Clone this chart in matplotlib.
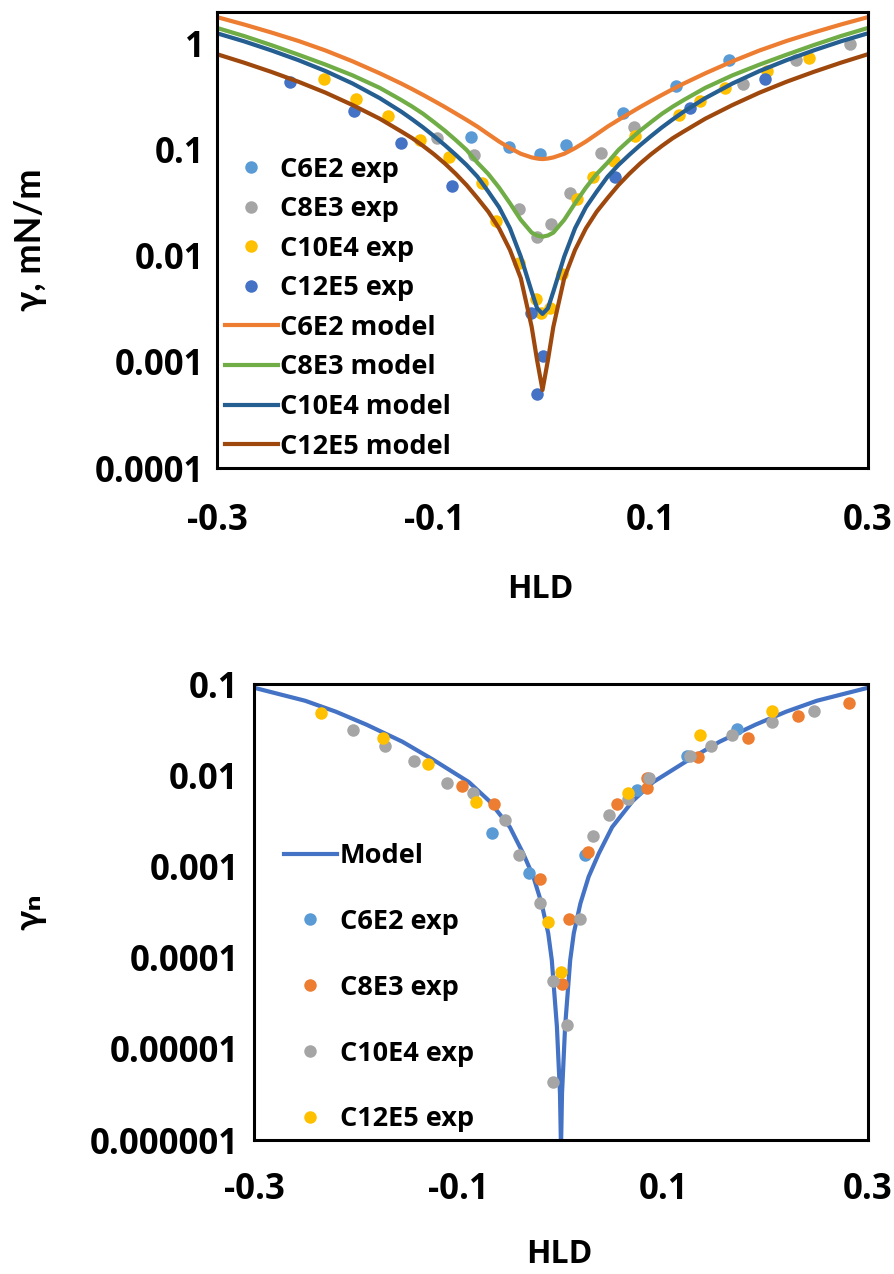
import matplotlib
matplotlib.use("Agg")
import matplotlib.pyplot as plt
from matplotlib.ticker import FixedLocator, FixedFormatter, NullLocator

plt.rcParams['font.family'] = ['Open Sans', 'DejaVu Sans']
plt.rcParams['font.weight'] = 'bold'
GREEK_FAMILY = ['Lato', 'DejaVu Sans']

# ---------------- Top chart data ----------------
top_c6e2_x = [-0.066, -0.031, -0.002, 0.022, 0.074, 0.123, 0.172]
top_c6e2_y = [0.132, 0.106, 0.091, 0.111, 0.222, 0.40, 0.71]

top_c8e3_x = [-0.097, -0.063, -0.022, -0.005, 0.008, 0.025, 0.054, 0.084, 0.185, 0.234, 0.283]
top_c8e3_y = [0.129, 0.089, 0.0276, 0.015, 0.020, 0.039, 0.093, 0.166, 0.417, 0.70, 0.99]

top_c10e4_x = [-0.201, -0.172, -0.142, -0.113, -0.086, -0.056, -0.043, -0.022, -0.006, -0.001,
               0.007, 0.018, 0.032, 0.047, 0.066, 0.085, 0.126, 0.145, 0.168, 0.207, 0.246]
top_c10e4_y = [0.468, 0.30, 0.209, 0.124, 0.0865, 0.0485, 0.0215, 0.0085, 0.0039, 0.0029,
               0.0032, 0.0068, 0.0345, 0.055, 0.078, 0.134, 0.214, 0.29, 0.38, 0.56, 0.74]

top_c12e5_x = [-0.233, -0.174, -0.130, -0.083, -0.011, 0.0, -0.005, 0.067, 0.136, 0.205]
top_c12e5_y = [0.44, 0.233, 0.117, 0.046, 0.0029, 0.00114, 0.0005, 0.055, 0.247, 0.468]

model_x = [-0.3, -0.275, -0.25, -0.225, -0.2, -0.175, -0.15, -0.13, -0.12, -0.11, -0.1, -0.09,
           -0.08, -0.07, -0.06, -0.05, -0.04, -0.03, -0.02, -0.01, -0.005, 0.0, 0.005, 0.01,
           0.02, 0.03, 0.04, 0.05, 0.06, 0.07, 0.08, 0.09, 0.1, 0.11, 0.12, 0.13, 0.15, 0.175,
           0.2, 0.225, 0.25, 0.275, 0.3]
model_c6e2 = [1.79, 1.524, 1.282, 1.067, 0.867, 0.685, 0.528, 0.422, 0.374, 0.33, 0.29, 0.254,
              0.221, 0.192, 0.166, 0.141, 0.12, 0.104, 0.092, 0.085, 0.083, 0.082, 0.083, 0.085,
              0.092, 0.104, 0.12, 0.141, 0.166, 0.192, 0.221, 0.254, 0.29, 0.33, 0.374, 0.422,
              0.528, 0.685, 0.867, 1.067, 1.282, 1.524, 1.79]
model_c8e3 = [1.415, 1.186, 0.975, 0.792, 0.638, 0.505, 0.385, 0.295, 0.256, 0.219, 0.183, 0.152,
              0.124, 0.1, 0.0759, 0.0594, 0.0441, 0.0314, 0.0219, 0.0166, 0.0156, 0.0152, 0.0156,
              0.0166, 0.0219, 0.0314, 0.0441, 0.0594, 0.0759, 0.1, 0.124, 0.152, 0.183, 0.219,
              0.256, 0.295, 0.385, 0.505, 0.638, 0.792, 0.975, 1.186, 1.415]
model_c10e4 = [1.26, 1.057, 0.869, 0.703, 0.555, 0.423, 0.308, 0.229, 0.194, 0.163, 0.135, 0.111,
               0.09, 0.0721, 0.056, 0.0405, 0.0288, 0.01825, 0.00985, 0.00461, 0.00321, 0.00284,
               0.00321, 0.00461, 0.00985, 0.01825, 0.0288, 0.0405, 0.056, 0.0721, 0.09, 0.111,
               0.135, 0.163, 0.194, 0.229, 0.308, 0.423, 0.555, 0.703, 0.869, 1.057, 1.26]
model_c12e5 = [0.80, 0.665, 0.545, 0.44, 0.347, 0.265, 0.197, 0.149, 0.129, 0.109, 0.091, 0.0745,
               0.0596, 0.0466, 0.0352, 0.0262, 0.0182, 0.0114, 0.00616, 0.00215, 0.00104, 0.000544,
               0.00104, 0.00215, 0.00616, 0.0114, 0.0182, 0.0262, 0.0352, 0.0466, 0.0596, 0.0745,
               0.091, 0.109, 0.129, 0.149, 0.197, 0.265, 0.347, 0.44, 0.545, 0.665, 0.80]

top_yticks = [1, 0.1, 0.01, 0.001, 0.0001]
top_ytick_labels = ['1', '0.1', '0.01', '0.001', '0.0001']

# ---------------- Bottom chart data ----------------
bot_model_x = [-0.3, -0.25, -0.22, -0.19, -0.155, -0.125, -0.09, -0.07, -0.05, -0.037, -0.027,
               -0.019, -0.0125, -0.009, -0.0065, -0.004, -0.0025, -0.001, 0.0, 0.001, 0.0025,
               0.004, 0.0065, 0.009, 0.0125, 0.019, 0.027, 0.037, 0.05, 0.07, 0.09, 0.125, 0.155,
               0.19, 0.22, 0.25, 0.3]
bot_model_y = [0.091, 0.0655, 0.0497, 0.0358, 0.0233, 0.0148, 0.0084, 0.0052, 0.0027, 0.00139,
               0.00077, 0.000394, 0.000185, 9.4e-5, 4.06e-5, 1.75e-5, 7.5e-6, 3.25e-6, 8e-7,
               3.25e-6, 7.5e-6, 1.75e-5, 4.06e-5, 9.4e-5, 0.000185, 0.000394, 0.00077, 0.00139,
               0.0027, 0.0052, 0.0084, 0.0148, 0.0233, 0.0358, 0.0497, 0.0655, 0.091]

bot_c6e2_x = [-0.0671, -0.0310, 0.0235, 0.0738, 0.1228, 0.1723]
bot_c6e2_y = [0.00231, 0.00084, 0.00133, 0.0068, 0.01625, 0.0319]

bot_c8e3_x = [-0.0963, -0.0652, -0.0205, 0.0080, 0.0007, 0.0264, 0.0550, 0.0837, 0.0837,
              0.1336, 0.1827, 0.2319, 0.2817]
bot_c8e3_y = [0.0077, 0.0048, 0.000736, 0.000264, 5.2e-5, 0.00143, 0.00478, 0.00718, 0.00935,
              0.01596, 0.0258, 0.0443, 0.0619]

bot_c10e4_x = [-0.2030, -0.1720, -0.1434, -0.1117, -0.0857, -0.0544, -0.0410, -0.0205, -0.0075,
               -0.0075, 0.0056, 0.0186, 0.0316, 0.0472, 0.0655, 0.0863, 0.1258, 0.1463, 0.1674,
               0.2059, 0.2477]
bot_c10e4_y = [0.0316, 0.0209, 0.0142, 0.0082, 0.00638, 0.00323, 0.00133, 0.000397, 5.6e-5,
               4.35e-6, 1.81e-5, 0.000264, 0.00214, 0.00367, 0.00544, 0.0094, 0.01625, 0.0210,
               0.0279, 0.0383, 0.0506]

bot_c12e5_x = [-0.2345, -0.1742, -0.1303, -0.0831, -0.0124, 0.0003, 0.0650, 0.1358, 0.2059]
bot_c12e5_y = [0.0478, 0.0259, 0.0132, 0.00512, 0.000248, 6.9e-5, 0.00634, 0.0276, 0.0506]

bot_yticks = [0.1, 0.01, 0.001, 0.0001, 0.00001, 0.000001]
bot_ytick_labels = ['0.1', '0.01', '0.001', '0.0001', '0.00001', '0.000001']

xticks = [-0.3, -0.1, 0.1, 0.3]
xtick_labels = ['-0.3', '-0.1', '0.1', '0.3']

# ---------------- Figure ----------------
W, H = 894, 1274
fig = plt.figure(figsize=(W / 100, H / 100), dpi=100)

def px_axes(l, t, r, b):
    return [l / W, 1 - b / H, (r - l) / W, (b - t) / H]

TICK_FS = 25
LEG_FS = 19.5
LAB_FS = 23
YLAB_FS = 26
MS = 9
LW = 3.0

def style_axes(ax, yticks, ylabels, ylim, xpad, ypad):
    ax.set_yscale('log')
    ax.set_xlim(-0.3, 0.3)
    ax.set_ylim(*ylim)
    ax.xaxis.set_major_locator(FixedLocator(xticks))
    ax.xaxis.set_major_formatter(FixedFormatter(xtick_labels))
    ax.yaxis.set_major_locator(FixedLocator(yticks))
    ax.yaxis.set_major_formatter(FixedFormatter(ylabels))
    ax.yaxis.set_minor_locator(NullLocator())
    ax.xaxis.set_minor_locator(NullLocator())
    ax.tick_params(axis='both', length=0, labelsize=TICK_FS)
    ax.tick_params(axis='x', pad=xpad)
    ax.tick_params(axis='y', pad=ypad)
    for lab in ax.get_xticklabels() + ax.get_yticklabels():
        lab.set_fontweight('bold')
    for s in ax.spines.values():
        s.set_linewidth(2.2)
        s.set_color('black')

# Top axes
ax1 = fig.add_axes(px_axes(217, 12, 868, 468))
h_exp = []
h_exp.append(ax1.plot(top_c6e2_x, top_c6e2_y, 'o', color='#5B9BD5', ms=MS, mew=0, label='C6E2 exp')[0])
h_exp.append(ax1.plot(top_c8e3_x, top_c8e3_y, 'o', color='#A5A5A5', ms=MS, mew=0, label='C8E3 exp')[0])
h_exp.append(ax1.plot(top_c10e4_x, top_c10e4_y, 'o', color='#FFC000', ms=MS, mew=0, label='C10E4 exp')[0])
h_exp.append(ax1.plot(top_c12e5_x, top_c12e5_y, 'o', color='#4472C4', ms=MS, mew=0, label='C12E5 exp')[0])
h_mod = []
h_mod.append(ax1.plot(model_x, model_c6e2, '-', color='#ED7D31', lw=LW, label='C6E2 model')[0])
h_mod.append(ax1.plot(model_x, model_c8e3, '-', color='#70AD47', lw=LW, label='C8E3 model')[0])
h_mod.append(ax1.plot(model_x, model_c10e4, '-', color='#255E91', lw=LW, label='C10E4 model')[0])
h_mod.append(ax1.plot(model_x, model_c12e5, '-', color='#9E480E', lw=LW, label='C12E5 model')[0])
style_axes(ax1, top_yticks, top_ytick_labels, (1e-4, 2.0), 25, 9)
ax1.set_xlabel('HLD', fontsize=LAB_FS, fontweight='bold')
ax1.xaxis.set_label_coords(0.496, -0.2675)
ax1.xaxis.label.set_va('center')
ax1.set_ylabel('γ, mN/m', fontsize=YLAB_FS, fontweight='bold', family=GREEK_FAMILY)
ax1.yaxis.set_label_coords(-0.287, 0.5)
ax1.yaxis.label.set_va('center')
leg1 = ax1.legend(handles=h_exp + h_mod, loc='upper left', bbox_to_anchor=(0.012, 0.6825),
                  frameon=False, fontsize=LEG_FS, handlelength=1.95, handletextpad=0.1,
                  labelspacing=0.50, borderaxespad=0, borderpad=0)
for t in leg1.get_texts():
    t.set_fontweight('bold')

# Bottom axes
ax2 = fig.add_axes(px_axes(254, 684, 868, 1140))
hm = ax2.plot(bot_model_x, bot_model_y, '-', color='#4472C4', lw=LW, label='Model')[0]
hb = []
hb.append(ax2.plot(bot_c6e2_x, bot_c6e2_y, 'o', color='#5B9BD5', ms=MS, mew=0, label='C6E2 exp')[0])
hb.append(ax2.plot(bot_c8e3_x, bot_c8e3_y, 'o', color='#ED7D31', ms=MS, mew=0, label='C8E3 exp')[0])
hb.append(ax2.plot(bot_c10e4_x, bot_c10e4_y, 'o', color='#A5A5A5', ms=MS, mew=0, label='C10E4 exp')[0])
hb.append(ax2.plot(bot_c12e5_x, bot_c12e5_y, 'o', color='#FFC000', ms=MS, mew=0, label='C12E5 exp')[0])
style_axes(ax2, bot_yticks, bot_ytick_labels, (1e-6, 0.1), 23, 11)
ax2.set_xlabel('HLD', fontsize=LAB_FS, fontweight='bold')
ax2.xaxis.set_label_coords(0.498, -0.252)
ax2.xaxis.label.set_va('center')
ax2.set_ylabel('γₙ', fontsize=YLAB_FS, fontweight='bold', family=GREEK_FAMILY)
ax2.yaxis.set_label_coords(-0.365, 0.5)
ax2.yaxis.label.set_va('center')
leg2 = ax2.legend(handles=[hm] + hb, loc='upper left', bbox_to_anchor=(0.049, 0.651),
                  frameon=False, fontsize=LEG_FS, handlelength=1.95, handletextpad=0.1,
                  labelspacing=1.47, borderaxespad=0, borderpad=0)
for t in leg2.get_texts():
    t.set_fontweight('bold')

fig.savefig('out.png', dpi=100)
